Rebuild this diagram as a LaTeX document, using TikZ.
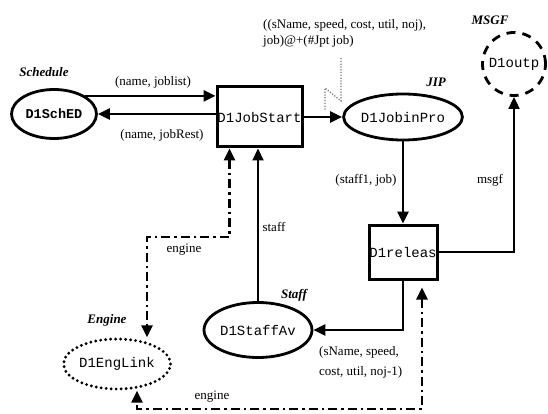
\documentclass[tikz,border=0pt]{standalone}
\usepackage{fontspec}
\setmainfont{Liberation Serif}
\setmonofont{Liberation Mono}
\usetikzlibrary{shapes.geometric,arrows.meta}

\begin{document}
\begin{tikzpicture}[x=1pt, y=-1pt,
  place/.style={ellipse, draw, line width=2.8pt, inner sep=0pt, font=\ttfamily\fontsize{14}{15}\selectfont},
  trans/.style={rectangle, draw, line width=3pt, inner sep=0pt, font=\ttfamily\fontsize{14}{15}\selectfont},
  flow/.style={line width=2.6pt, -{Triangle[length=12pt, width=11pt]}},
  ctrl/.style={line width=2.6pt, dash pattern=on 9pt off 4pt on 2.5pt off 4pt, {Triangle[length=12pt, width=11pt]}-{Triangle[length=12pt, width=11pt]}},
  inscr/.style={font=\fontsize{13}{16.7}\selectfont, inner sep=0pt},
  pname/.style={font=\fontsize{13}{15}\selectfont\bfseries\itshape, inner sep=0pt}]
  \useasboundingbox (0,0) rectangle (548,414);

  % places and transitions
  \node[place, minimum width=85pt, minimum height=49pt, font=\ttfamily\bfseries\fontsize{13.5}{15}\selectfont] (sched) at (54,114) {D1SchED};
  \node[trans, minimum width=85pt, minimum height=60pt] (jobstart) at (259.5,117) {D1JobStart};
  \node[place, minimum width=94pt, minimum height=46pt] (jobinpro) at (403,117) {D1JobinPro};
  \node[place, circle, dash pattern=on 9pt off 7pt, minimum size=63pt] (outp) at (514,64) {D1outp};
  \node[trans, minimum width=68pt, minimum height=54pt] (releas) at (403,252) {D1releas};
  \node[place, minimum width=108pt, minimum height=55pt] (staffav) at (258,330) {D1StaffAv};
  \node[place, dash pattern=on 0pt off 5pt, line cap=round, line width=3.2pt, minimum width=88pt, minimum height=50pt] (englink) at (117,364) {D1EngLink};

  % place names
  \node[pname] (schedn) at (44,72) {Schedule};
  \node[pname] (jipn) at (436,82) {JIP};
  \node[pname] (msgfn) at (490,20) {MSGF};
  \node[pname] (staffn) at (294,295) {Staff};
  \node[pname] (enginen) at (107,320) {Engine};

  % arcs
  \draw[flow] (sched.30) -- (sched.30 -| jobstart.west);
  \draw[flow] (jobstart.west |- sched.east) -- (sched.east);
  \draw[flow] (jobstart) -- (jobinpro);
  \draw[flow] (jobinpro) -- (releas);
  \draw[flow, line width=1.8pt] (releas.east) -| (outp.south);
  \draw[flow] (releas.south) |- (staffav.east);
  \draw[flow, line width=2.2pt] (staffav.north) -- (staffav.north |- jobstart.south);

  % engine links
  \coordinate (ebend) at (147,237);
  \coordinate (ebot) at (137,409);
  \draw[ctrl] ([xshift=-30pt]jobstart.south) |- (ebend) -- (ebend |- englink.north);
  \draw[ctrl, shorten <=7pt] ([xshift=19pt]releas.south) |- (ebot) -- (ebot |- englink.south);

  % inscriptions
  \node[inscr] (joblist) at (153,82) {(name, joblist)};
  \node[inscr] (jobrest) at (162,135) {(name, jobRest)};
  \node[inscr, align=left, anchor=west] (sig) at (263,33.5) {((sName, speed, cost, util, noj),\\job)@+(\#Jpt job)};
  \node[inscr] (staffjob) at (366,180) {(staff1, job)};
  \node[inscr] (msgf) at (490,180) {msgf};
  \node[inscr] (staff) at (274,227) {staff};
  \node[inscr] (eng1) at (184,250) {engine};
  \node[inscr] (eng2) at (212,397) {engine};
  \node[inscr, font=\fontsize{13}{20}\selectfont, align=left, anchor=west] (ret) at (319,362) {(sName, speed,\\cost, util, noj-1)};

  % zigzag pointer
  \coordinate (z1) at (341,58);
  \coordinate (z2) at (341,101);
  \coordinate (z3) at (325,88);
  \coordinate (z4) at (325,110);
  \draw[black!55, dash pattern=on 1.2pt off 1.6pt, line width=1.2pt] (z1) -- (z2) -- (z3) -- (z4);
\end{tikzpicture}
\end{document}
